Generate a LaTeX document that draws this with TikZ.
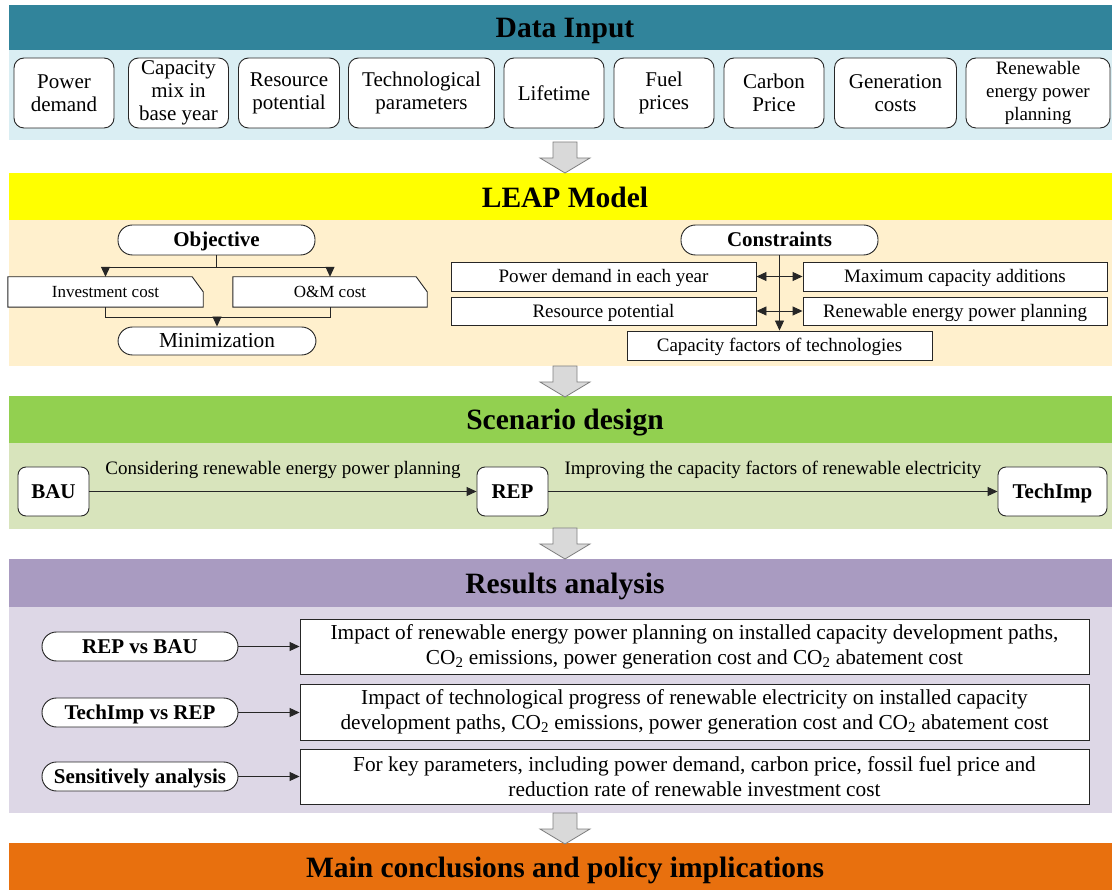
\documentclass[tikz,border=0pt]{standalone}
\usepackage{fontspec}
\setmainfont{Liberation Serif}
\usetikzlibrary{arrows.meta,calc}
\pgfdeclarelayer{back}
\pgfsetlayers{back,main}
\definecolor{tealc}{HTML}{31849B}
\definecolor{bluel}{HTML}{DAEEF3}
\definecolor{yel}{HTML}{FFFF00}
\definecolor{cream}{HTML}{FFF0CD}
\definecolor{grn}{HTML}{92D050}
\definecolor{grnl}{HTML}{D8E4BC}
\definecolor{pur}{HTML}{A99BC1}
\definecolor{purl}{HTML}{DDD7E6}
\definecolor{org}{HTML}{E8700E}
\definecolor{arrfill}{HTML}{D9D9D9}
\definecolor{arrline}{HTML}{7F7F7F}
\definecolor{lin}{HTML}{262626}
\tikzset{
  every node/.style={inner sep=0pt, align=center},
  title/.style={anchor=base, font=\fontsize{29.5}{32}\selectfont\bfseries},
  databox/.style={draw=lin, line width=0.9pt, fill=white, rounded corners=10pt,
    minimum height=70pt, font=\fontsize{21}{23}\selectfont},
  stadium/.style={text height=16pt, text depth=2.1pt, draw=lin, line width=0.9pt, fill=white, rounded corners=14.5pt,
    minimum height=29pt, font=\fontsize{21}{22}\selectfont\bfseries},
  plainbox/.style={text height=14.5pt, text depth=2pt, draw=lin, line width=0.9pt, fill=white, minimum height=29pt,
    minimum width=305pt, font=\fontsize{19}{22}\selectfont},
  chamftext/.style={text height=13pt, text depth=1.8pt, minimum height=30pt, font=\fontsize{17}{20}\selectfont},
  chamf/.style={draw=lin, line width=0.9pt, fill=white},
  scen/.style={text height=16pt, text depth=2.1pt, draw=lin, line width=0.9pt, fill=white, rounded corners=8pt,
    minimum height=49pt, font=\fontsize{21}{22}\selectfont\bfseries},
  resbox/.style={draw=lin, line width=0.9pt, fill=white, minimum width=789pt,
    minimum height=55pt, font=\fontsize{21.3}{25}\selectfont},
  lbl/.style={text height=14.5pt, text depth=2pt, font=\fontsize{19}{22}\selectfont},
  arr/.style={-{Triangle[length=10pt,width=9pt]}, line width=0.9pt, draw=lin},
  dbl/.style={{Triangle[length=10pt,width=9pt]}-{Triangle[length=10pt,width=9pt]}, line width=0.9pt, draw=lin},
  ln/.style={line width=0.9pt, draw=lin},
  blockarr/.pic={\draw[fill=arrfill, draw=arrline, line width=0.8pt]
    (-12,0) -- (12,0) -- (12,16) -- (25,16) -- (0,31) -- (-25,16) -- (-12,16) -- cycle;}
}
\begin{document}
\begin{tikzpicture}[x=1pt,y=-1pt]
\useasboundingbox (0,0) rectangle (1112,890);
\begin{pgfonlayer}{back}
\fill[tealc] (9,5) rectangle (1112,50);
\fill[bluel] (9,50) rectangle (1112,140);
\fill[yel] (9,173) rectangle (1112,220);
\fill[cream] (9,220) rectangle (1112,366);
\fill[grn] (9,396) rectangle (1112,443);
\fill[grnl] (9,443) rectangle (1112,529);
\fill[pur] (9,559) rectangle (1112,607);
\fill[purl] (9,607) rectangle (1112,813);
\fill[org] (9,843) rectangle (1112,890);
\end{pgfonlayer}

% titles
\node[title] (t1) at (565,38) {Data Input};
\node[title] (t2) at (565,207.5) {LEAP Model};
\node[title] (t3) at (565,430) {Scenario design};
\node[title] (t4) at (565,593.5) {Results analysis};
\node[title] (t5) at (565,877.5) {Main conclusions and policy implications};

% block arrows
\pic at (565,142) {blockarr};
\pic at (565,366) {blockarr};
\pic at (565,528) {blockarr};
\pic at (565,813) {blockarr};

% data input boxes
\node[databox, minimum width=100pt] (d1) at (64,93) {Power\\demand};
\node[databox, minimum width=100pt] (d2) at (178.5,93) {Capacity\\mix in\\base year};
\node[databox, minimum width=101pt] (d3) at (289,93) {Resource\\potential};
\node[databox, minimum width=146pt] (d4) at (421.5,93) {Technological\\parameters};
\node[databox, minimum width=100pt] (d5) at (554,93) {Lifetime};
\node[databox, minimum width=100pt] (d6) at (664,93) {Fuel\\prices};
\node[databox, minimum width=100pt] (d7) at (774,93) {Carbon\\Price};
\node[databox, minimum width=122pt] (d8) at (895.5,93) {Generation\\costs};
\node[databox, minimum width=144pt, font=\fontsize{19}{23}\selectfont] (d9) at (1038,93) {Renewable\\energy power\\planning};

% LEAP: objective
\node[stadium, minimum width=197pt, minimum height=30pt] (obj) at (216.5,240) {Objective};
\node[chamftext, minimum width=195pt] (inv) at (105.5,292) {Investment cost};
\node[chamftext, minimum width=194pt] (om) at (330,292) {O\&M cost};
\begin{pgfonlayer}{back}
\draw[chamf] (inv.south west) -- (inv.north west) -- ([xshift=-11pt]inv.north east)
  -- ([yshift=-15pt]inv.north east) -- (inv.south east) -- cycle;
\draw[chamf] (om.south west) -- (om.north west) -- ([xshift=-11pt]om.north east)
  -- ([yshift=-15pt]om.north east) -- (om.south east) -- cycle;
\end{pgfonlayer}
\node[stadium, minimum width=198pt, minimum height=28pt, font=\fontsize{21.3}{22}\selectfont] (mini) at (217,341) {Minimization};
\draw[arr] (obj.south) -- ++(0,12) -| (inv.north);
\draw[arr] (obj.south) -- ++(0,12) -| (om.north);
\draw[ln] (inv.south) -- ++(0,10) -| (om.south);
\coordinate (mj) at ($(mini.north)+(0,-10)$);
\draw[arr] (mj) -- (mini.north);

% LEAP: constraints
\node[stadium, minimum width=197pt, minimum height=30pt] (cons) at (779.5,240) {Constraints};
\node[plainbox] (pd) at (603.5,276.5) {Power demand in each year};
\node[plainbox, minimum width=304pt] (mca) at (955,276.5) {Maximum capacity additions};
\node[plainbox, minimum height=28pt] (rp) at (603.5,311) {Resource potential};
\node[plainbox, minimum width=304pt, minimum height=28pt] (repp) at (955,311) {Renewable energy power planning};
\node[plainbox] (cf) at (779.5,345.5) {Capacity factors of technologies};
\draw[arr] (cons.south) -- (cf.north);
\draw[dbl] (pd.east) -- (mca.west);
\draw[dbl] (rp.east) -- (repp.west);

% scenario design
\node[scen, minimum width=71pt] (bau) at (53.5,491.5) {BAU};
\node[scen, minimum width=71pt] (rep) at (512.5,491.5) {REP};
\node[scen, minimum width=109pt] (tech) at (1052.5,491.5) {TechImp};
\draw[arr] (bau) -- node[lbl, midway, yshift=23pt] {Considering renewable energy power planning} (rep);
\draw[arr] (rep) -- node[lbl, midway, yshift=23pt] {Improving the capacity factors of renewable electricity} (tech);

% results analysis
\node[stadium, minimum width=196pt] (s1) at (140,646.5) {REP vs BAU};
\node[stadium, minimum width=196pt] (s2) at (140,712.5) {TechImp vs REP};
\node[stadium, minimum width=196pt] (s3) at (140,776.5) {Sensitively analysis};
\node[resbox] (r1) at (694.5,646.5) {Impact of renewable energy power planning on installed capacity development paths,\\CO\textsubscript{2} emissions, power generation cost and CO\textsubscript{2} abatement cost};
\node[resbox, minimum height=56pt] (r2) at (694.5,712) {Impact of technological progress of renewable electricity on installed capacity\\development paths, CO\textsubscript{2} emissions, power generation cost and CO\textsubscript{2} abatement cost};
\node[resbox] (r3) at (694.5,776.5) {For key parameters, including power demand, carbon price, fossil fuel price and\\reduction rate of renewable investment cost};
\draw[arr] (s1.east) -- (r1.west |- s1.east);
\draw[arr] (s2.east) -- (r2.west |- s2.east);
\draw[arr] (s3.east) -- (r3.west |- s3.east);
\end{tikzpicture}
\end{document}
